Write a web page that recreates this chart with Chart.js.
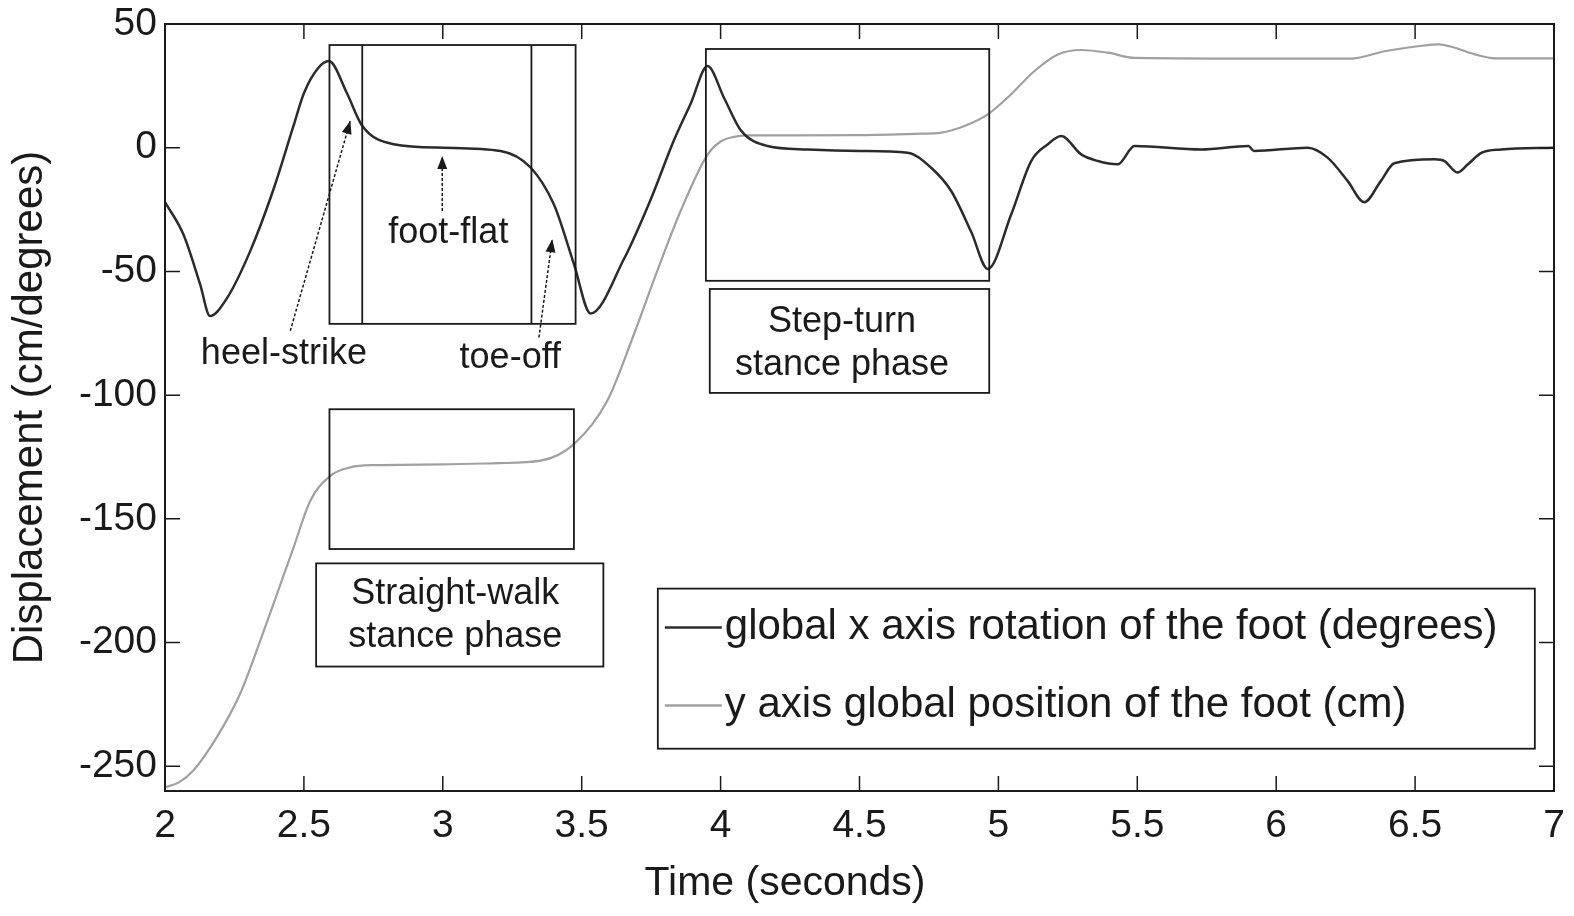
<!DOCTYPE html>
<html>
<head>
<meta charset="utf-8">
<script src="https://cdn.jsdelivr.net/npm/chart.js@4.4.1/dist/chart.umd.min.js"></script>
<style>
  html, body { margin: 0; padding: 0; background: #fff; }
</style>
</head>
<body>
<canvas id="chart" width="1574" height="916"></canvas>
<script>
// global x axis rotation of the foot (degrees)
const rotTime = [2.0, 2.066, 2.126, 2.162, 2.222, 2.306, 2.39, 2.463, 2.5, 2.55, 2.59, 2.655, 2.709, 2.823, 3.003, 3.208, 3.316, 3.4, 3.472, 3.532, 3.652, 3.748, 3.832, 3.893, 3.953, 4.013, 4.073, 4.169, 4.313, 4.5, 4.673, 4.757, 4.83, 4.902, 4.962, 5.046, 5.118, 5.178, 5.226, 5.298, 5.358, 5.43, 5.49, 5.731, 5.9, 5.92, 6.113, 6.185, 6.257, 6.317, 6.377, 6.425, 6.57, 6.606, 6.652, 6.69, 6.74, 6.81, 7.0];
const rotDeg = [-22, -35, -55, -68, -61, -42, -17, 9, 22, 32, 35, 22, 9, 1.4, 0, -1.3, -8, -23, -47, -67, -45, -21, 3, 18, 33, 20, 7, 0.7, -0.7, -1.3, -2, -8, -17.5, -34, -49, -27, -5.4, 1.4, 4.7, -2.7, -5.4, -6.7, 0.7, -0.7, 0.7, -1.3, 0, -4, -13.4, -22, -13.4, -6.3, -4.7, -5.4, -10, -6.7, -2, -0.7, 0];

// y axis global position of the foot (cm)
const posTime = [2.0, 2.05, 2.102, 2.186, 2.27, 2.343, 2.403, 2.463, 2.523, 2.595, 2.667, 2.75, 3.0, 3.2, 3.352, 3.472, 3.592, 3.688, 3.772, 3.856, 3.952, 4.0, 4.048, 4.1, 4.2, 4.5, 4.7, 4.794, 4.878, 4.962, 5.046, 5.13, 5.214, 5.298, 5.394, 5.49, 6.0, 6.27, 6.39, 6.51, 6.585, 6.643, 6.715, 6.787, 7.0];
const posCm = [-258.5, -256.5, -251.7, -238.3, -220.8, -199.2, -180.4, -161.5, -142.7, -132.6, -129.2, -128.3, -128, -127.5, -126.5, -119.8, -102.3, -75.4, -49.8, -25.6, -3, 2.5, 4.4, 5, 5, 5.1, 5.6, 6.1, 8.8, 13.5, 21.6, 31, 37.7, 39.5, 38.4, 36.3, 36, 36, 39, 41, 41.8, 40.4, 37.7, 36.1, 36.1];

const xTicks = [2, 2.5, 3, 3.5, 4, 4.5, 5, 5.5, 6, 6.5, 7];
const yTicks = [-250, -200, -150, -100, -50, 0, 50];

const seriesLabels = ['global x axis rotation of the foot (degrees)', 'y axis global position of the foot (cm)'];

// annotations, in data units (time, displacement)
const phaseBoxes = [
  {t0: 2.592, t1: 3.478, v0: -71.2, v1: 41.5},
  {t0: 2.592, t1: 3.472, v0: -162.2, v1: -105.7},
  {t0: 2.544, t1: 3.578, v0: -209.7, v1: -168},
  {t0: 3.947, t1: 4.967, v0: -53.8, v1: 39.9},
  {t0: 3.961, t1: 4.967, v0: -99.1, v1: -57.1},
];
const phaseLines = [2.71, 3.319];
const notes = [
  {text: 'heel-strike', t: 2.428, v: -83.5},
  {text: 'toe-off', t: 3.243, v: -85},
  {text: 'foot-flat', t: 3.02, v: -34.6},
  {text: 'Step-turn', t: 4.437, v: -70.3},
  {text: 'stance phase', t: 4.437, v: -87.7},
  {text: 'Straight-walk', t: 3.045, v: -180.3},
  {text: 'stance phase', t: 3.045, v: -197.7},
];
const arrows = [
  {t0: 2.451, v0: -74, t1: 2.667, v1: 10.8},
  {t0: 2.998, v0: -25.6, t1: 2.998, v1: -3.4},
  {t0: 3.346, v0: -76.7, t1: 3.394, v1: -37},
];
const legendBox = {t0: 3.774, t1: 6.931, v0: -242.9, v1: -178.2};

const fontFamily = '"Liberation Sans", Arial, sans-serif';
const ink = '#1a1a1a';
const seriesColors = ['#2b2b2b', '#a0a0a0'];

function toPoints(xs, ys) {
  return xs.map((x, i) => ({x, y: ys[i]}));
}

const frame = {
  id: 'frame',
  afterDatasetsDraw(chart) {
    const {ctx, chartArea: {left, right, top, bottom}, scales: {x, y}} = chart;
    const tickLen = 15;
    ctx.save();
    ctx.strokeStyle = ink;
    ctx.lineWidth = 2;
    ctx.strokeRect(left, top, right - left, bottom - top);
    ctx.lineWidth = 1.5;
    ctx.beginPath();
    x.ticks.forEach(t => {
      const px = x.getPixelForValue(t.value);
      ctx.moveTo(px, bottom); ctx.lineTo(px, bottom - tickLen);
      ctx.moveTo(px, top); ctx.lineTo(px, top + tickLen);
    });
    y.ticks.forEach(t => {
      const py = y.getPixelForValue(t.value);
      ctx.moveTo(left, py); ctx.lineTo(left + tickLen, py);
      ctx.moveTo(right, py); ctx.lineTo(right - tickLen, py);
    });
    ctx.stroke();

    // x axis title (sits left of centre in the original)
    ctx.fillStyle = ink;
    ctx.font = '41px ' + fontFamily;
    ctx.textAlign = 'center';
    ctx.textBaseline = 'middle';
    ctx.fillText('Time (seconds)', 785, 884);
    ctx.restore();
  }
};

const notesPlugin = {
  id: 'notes',
  afterDatasetsDraw(chart) {
    const {ctx, scales: {x, y}} = chart;
    const X = t => x.getPixelForValue(t);
    const Y = v => y.getPixelForValue(v);
    ctx.save();
    ctx.strokeStyle = ink;
    ctx.fillStyle = ink;
    ctx.lineWidth = 1.8;

    phaseBoxes.forEach(b => {
      ctx.strokeRect(X(b.t0), Y(b.v1), X(b.t1) - X(b.t0), Y(b.v0) - Y(b.v1));
    });
    ctx.beginPath();
    phaseLines.forEach(t => {
      ctx.moveTo(X(t), Y(phaseBoxes[0].v1));
      ctx.lineTo(X(t), Y(phaseBoxes[0].v0));
    });
    ctx.stroke();

    arrows.forEach(a => {
      const x0 = X(a.t0), y0 = Y(a.v0), x1 = X(a.t1), y1 = Y(a.v1);
      const ang = Math.atan2(y1 - y0, x1 - x0);
      ctx.lineWidth = 1.5;
      ctx.setLineDash([3, 2]);
      ctx.beginPath();
      ctx.moveTo(x0, y0);
      ctx.lineTo(x1, y1);
      ctx.stroke();
      ctx.setLineDash([]);
      const len = 13, wid = 5;
      ctx.beginPath();
      ctx.moveTo(x1, y1);
      ctx.lineTo(x1 - len * Math.cos(ang) + wid * Math.sin(ang), y1 - len * Math.sin(ang) - wid * Math.cos(ang));
      ctx.lineTo(x1 - len * Math.cos(ang) - wid * Math.sin(ang), y1 - len * Math.sin(ang) + wid * Math.cos(ang));
      ctx.closePath();
      ctx.fill();
    });

    ctx.font = '36px ' + fontFamily;
    ctx.textAlign = 'center';
    ctx.textBaseline = 'middle';
    notes.forEach(n => ctx.fillText(n.text, X(n.t), Y(n.v)));

    // legend
    const lx0 = X(legendBox.t0), lx1 = X(legendBox.t1);
    const ly0 = Y(legendBox.v1), ly1 = Y(legendBox.v0);
    ctx.fillStyle = '#fff';
    ctx.fillRect(lx0, ly0, lx1 - lx0, ly1 - ly0);
    ctx.lineWidth = 1.8;
    ctx.strokeRect(lx0, ly0, lx1 - lx0, ly1 - ly0);
    ctx.font = '42px ' + fontFamily;
    ctx.textAlign = 'left';
    seriesLabels.forEach((label, i) => {
      const ly = ly0 + 39 + i * 78;
      ctx.strokeStyle = seriesColors[i];
      ctx.lineWidth = 2.5;
      ctx.beginPath();
      ctx.moveTo(lx0 + 7, ly);
      ctx.lineTo(lx0 + 64, ly);
      ctx.stroke();
      ctx.fillStyle = ink;
      ctx.fillText(label, lx0 + 67, ly);
    });
    ctx.restore();
  }
};

new Chart(document.getElementById('chart').getContext('2d'), {
  type: 'line',
  data: {
    datasets: [
      {
        label: seriesLabels[0],
        data: toPoints(rotTime, rotDeg),
        borderColor: seriesColors[0],
        borderWidth: 2.5,
        pointRadius: 0,
        cubicInterpolationMode: 'monotone',
        fill: false,
      },
      {
        label: seriesLabels[1],
        data: toPoints(posTime, posCm),
        borderColor: seriesColors[1],
        borderWidth: 2.2,
        pointRadius: 0,
        cubicInterpolationMode: 'monotone',
        fill: false,
      },
    ]
  },
  options: {
    responsive: false,
    animation: false,
    layout: {padding: {left: 0, right: 20, top: 24, bottom: 0}},
    plugins: {legend: {display: false}, tooltip: {enabled: false}},
    scales: {
      x: {
        type: 'linear',
        min: 2,
        max: 7,
        grid: {display: false, drawTicks: false},
        border: {display: false},
        afterBuildTicks: scale => { scale.ticks = xTicks.map(value => ({value})); },
        afterFit: scale => {
          scale.height = 125;
          scale.paddingLeft = 0;
          scale.paddingRight = 0;
        },
        ticks: {
          color: ink,
          padding: 12,
          font: {family: fontFamily, size: 39},
          callback: value => String(value),
        },
      },
      y: {
        min: -260,
        max: 50,
        grid: {display: false, drawTicks: false},
        border: {display: false},
        afterBuildTicks: scale => { scale.ticks = yTicks.map(value => ({value})); },
        afterFit: scale => {
          scale.width = 165;
          scale.paddingTop = 0;
          scale.paddingBottom = 0;
        },
        ticks: {
          color: ink,
          padding: 8,
          font: {family: fontFamily, size: 39},
          callback: value => String(value),
        },
        title: {
          display: true,
          text: 'Displacement (cm/degrees)',
          color: ink,
          font: {family: fontFamily, size: 42},
          padding: {top: 5, bottom: 0},
        },
      },
    },
  },
  plugins: [frame, notesPlugin],
});
</script>
</body>
</html>
